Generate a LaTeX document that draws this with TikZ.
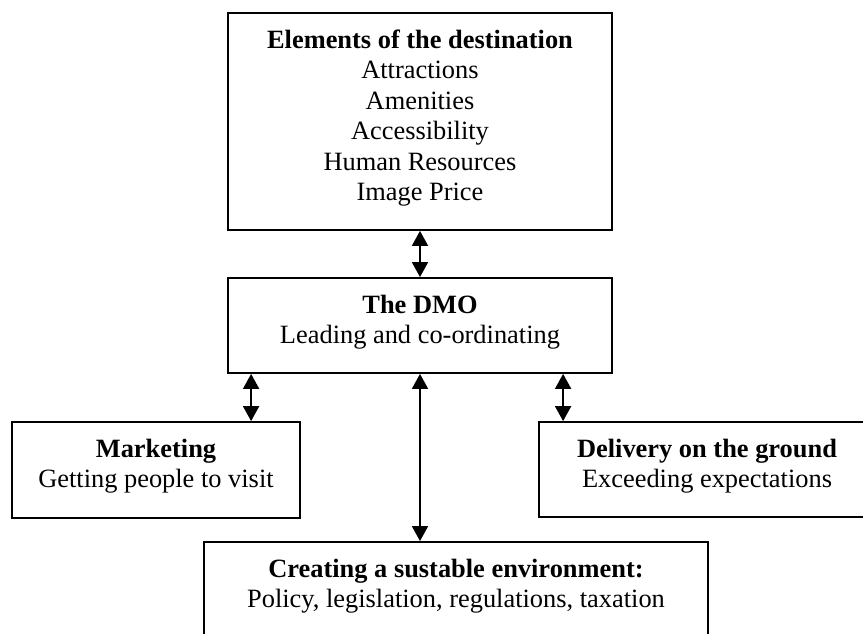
\documentclass[tikz,border=0pt]{standalone}
\usepackage{fontspec}
\setmainfont{Liberation Serif}
\usetikzlibrary{arrows.meta}

\newcommand{\boxtext}[3]{\parbox[c][#2][t]{#1}{\vspace*{14pt}\centering\strut #3}}

\tikzset{
  box/.style={draw, line width=1.8pt, inner sep=0pt, font=\fontsize{26.4pt}{30.5pt}\selectfont},
  link/.style={{Triangle[length=15pt,width=16pt]}-{Triangle[length=15pt,width=16pt]}, line width=1.8pt},
}

\begin{document}
\begin{tikzpicture}[x=1pt,y=-1pt]
  \useasboundingbox (0,0) rectangle (863,633);
  \node[box] (elem) at (420,121.5) {\boxtext{384pt}{217pt}{\textbf{Elements of the destination}\\Attractions\\Amenities\\Accessibility\\Human Resources\\Image Price}};
  \node[box] (dmo) at (420,325.5) {\boxtext{384pt}{95pt}{\textbf{The DMO}\\Leading and co-ordinating}};
  \node[box] (mkt) at (156,470) {\boxtext{288pt}{96pt}{\textbf{Marketing}\\Getting people to visit}};
  \node[box] (del) at (707,469.5) {\boxtext{336pt}{95pt}{\textbf{Delivery on the ground}\\Exceeding expectations}};
  \node[box] (env) at (456,597) {\boxtext{504pt}{110pt}{\textbf{Creating a sustable environment:}\\Policy, legislation, regulations, taxation}};

  \draw[link] (elem.south) -- (dmo.north);
  \draw[link] ([xshift=24pt]dmo.south west) -- ([xshift=24pt]dmo.south west |- mkt.north);
  \draw[link] (dmo.south) -- (dmo.south |- env.north);
  \draw[link] ([xshift=25pt]del.north west |- dmo.south) -- ([xshift=25pt]del.north west);
\end{tikzpicture}
\end{document}
